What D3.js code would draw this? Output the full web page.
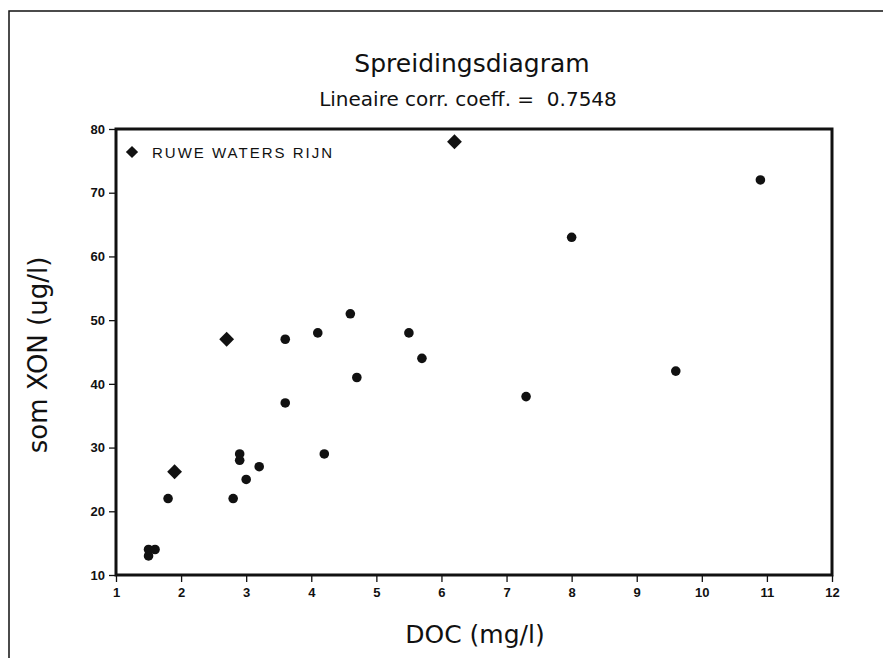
<!DOCTYPE html>
<html>
<head>
<meta charset="utf-8">
<script src="https://cdn.jsdelivr.net/npm/d3@7"></script>
<style>
  body { margin: 0; background: #fff; }
  svg { display: block; }
</style>
</head>
<body>
<div id="chart"></div>
<script>
// DOC (mg/l) and som XON (ug/l)
var docOther = [1.5, 1.5, 1.6, 1.8, 2.8, 2.9, 2.9, 3.0, 3.2, 3.6, 3.6, 4.1, 4.2, 4.6, 4.7, 5.5, 5.7, 7.3, 8.0, 9.6, 10.9];
var xonOther = [13, 14, 14, 22, 22, 28, 29, 25, 27, 37, 47, 48, 29, 51, 41, 48, 44, 38, 63, 42, 72];

// "RUWE WATERS RIJN" series
var docRijn = [1.9, 2.7, 6.2];
var xonRijn = [26.2, 47, 78];

var xTicks = [1, 2, 3, 4, 5, 6, 7, 8, 9, 10, 11, 12];
var yTicks = [10, 20, 30, 40, 50, 60, 70, 80];

var width = 883, height = 658;
var margin = {top: 129, right: 51, bottom: 83, left: 116};
var w = width - margin.left - margin.right,
    h = height - margin.top - margin.bottom;

var svg = d3.select("#chart").append("svg")
    .attr("width", width)
    .attr("height", height);

// outer page frame (only top and left edges show in the scan)
svg.append("path")
    .attr("d", "M9,658 V11 H883")
    .attr("fill", "none")
    .attr("stroke", "#111")
    .attr("stroke-width", 1.5);

var g = svg.append("g")
    .attr("transform", "translate(" + margin.left + "," + margin.top + ")");

var x = d3.scaleLinear().domain([1, 12]).range([0, w]);
var y = d3.scaleLinear().domain([10, 80]).range([h, 0]);

var xAxis = g.append("g")
    .attr("transform", "translate(0," + h + ")")
    .call(d3.axisBottom(x).tickValues(xTicks).tickSize(7).tickSizeOuter(0).tickPadding(6));

var yAxis = g.append("g")
    .call(d3.axisLeft(y).tickValues(yTicks).tickSize(7).tickSizeOuter(0).tickPadding(4));

[xAxis, yAxis].forEach(function(a) {
    a.attr("font-family", "Liberation Sans, Arial, sans-serif")
        .attr("font-size", 13)
        .attr("font-weight", "bold");
    a.select(".domain").remove();
    a.selectAll(".tick line").attr("stroke", "#111").attr("stroke-width", 1.3);
    a.selectAll(".tick text").attr("fill", "#111");
});

// plot box
g.append("rect")
    .attr("x", 0).attr("y", 0)
    .attr("width", w).attr("height", h)
    .attr("fill", "none")
    .attr("stroke", "#111")
    .attr("stroke-width", 3);

// circles
g.selectAll(".dot")
    .data(d3.zip(docOther, xonOther))
    .enter().append("circle")
    .attr("class", "dot")
    .attr("cx", function(d) { return x(d[0]); })
    .attr("cy", function(d) { return y(d[1]); })
    .attr("r", 4.8)
    .attr("fill", "#111");

// diamonds
var diamond = d3.symbol().type(d3.symbolSquare).size(110);
g.selectAll(".rijn")
    .data(d3.zip(docRijn, xonRijn))
    .enter().append("path")
    .attr("class", "rijn")
    .attr("d", diamond)
    .attr("transform", function(d) {
        return "translate(" + x(d[0]) + "," + y(d[1]) + ") rotate(45)";
    })
    .attr("fill", "#111");

// legend
g.append("path")
    .attr("d", d3.symbol().type(d3.symbolSquare).size(75))
    .attr("transform", "translate(16,23) rotate(45)")
    .attr("fill", "#111");
g.append("text")
    .attr("x", 36).attr("y", 29)
    .style("font-family", "Liberation Sans, Arial, sans-serif")
    .style("font-size", "15px")
    .style("letter-spacing", "2px")
    .attr("fill", "#111")
    .text("RUWE WATERS RIJN");

// titles
svg.append("text")
    .attr("x", 472).attr("y", 72)
    .attr("text-anchor", "middle")
    .style("font-family", "DejaVu Sans, sans-serif")
    .style("font-size", "25px")
    .attr("fill", "#111")
    .text("Spreidingsdiagram");

svg.append("text")
    .attr("x", 468).attr("y", 106)
    .attr("text-anchor", "middle")
    .style("font-family", "DejaVu Sans, sans-serif")
    .style("font-size", "20px")
    .attr("fill", "#111")
    .attr("xml:space", "preserve")
    .text("Lineaire corr. coeff. =  0.7548");

svg.append("text")
    .attr("x", 475).attr("y", 643)
    .attr("text-anchor", "middle")
    .style("font-family", "DejaVu Sans, sans-serif")
    .style("font-size", "25px")
    .attr("fill", "#111")
    .text("DOC (mg/l)");

svg.append("text")
    .attr("transform", "translate(47,355) rotate(-90)")
    .attr("text-anchor", "middle")
    .style("font-family", "DejaVu Sans, sans-serif")
    .style("font-size", "26px")
    .attr("fill", "#111")
    .text("som XON (ug/l)");
</script>
</body>
</html>
